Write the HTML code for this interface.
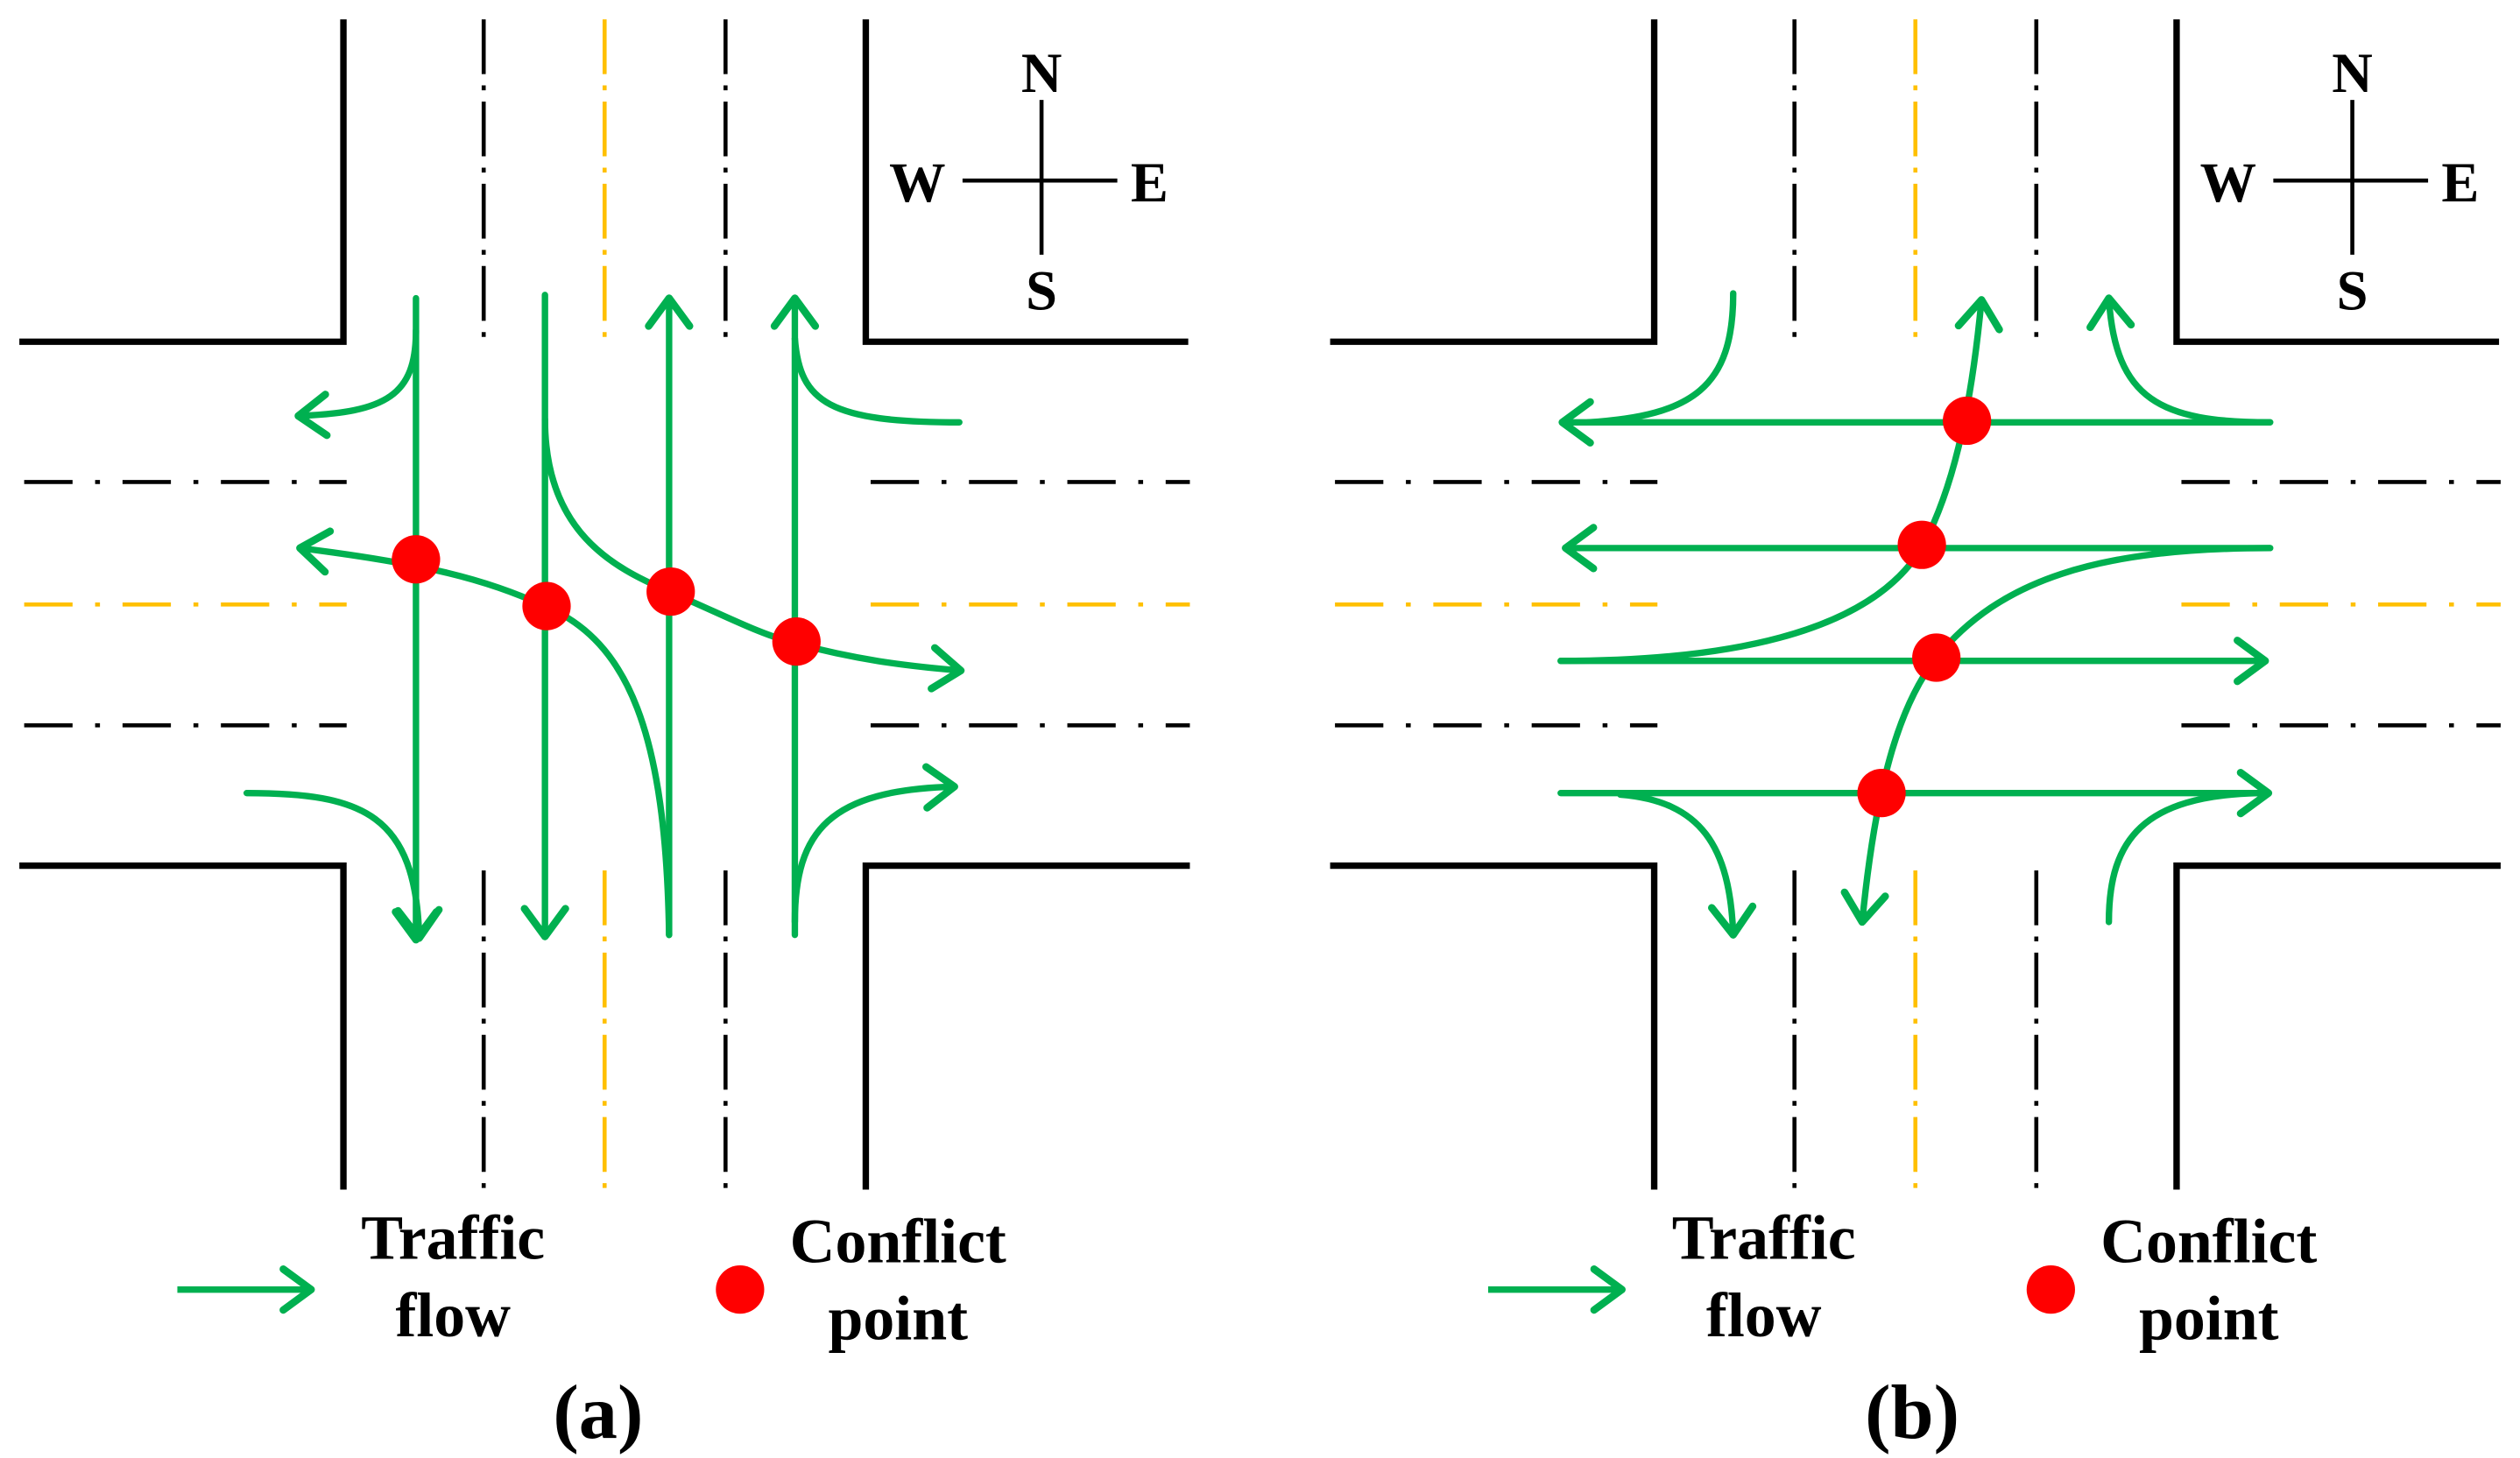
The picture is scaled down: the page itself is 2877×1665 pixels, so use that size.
<!DOCTYPE html>
<html><head><meta charset="utf-8"><style>html,body{margin:0;padding:0;background:#fff}svg{display:block}</style></head>
<body>
<svg width="2877" height="1665" viewBox="0 0 1563 904.5" preserveAspectRatio="none" xmlns="http://www.w3.org/2000/svg">
<defs>
<marker id="ar" markerUnits="userSpaceOnUse" markerWidth="30" markerHeight="30" refX="15" refY="0" viewBox="-2 -13 20 26" orient="auto" overflow="visible">
<path d="M0,-11 L15,0 L0,11" fill="none" stroke="#00b050" stroke-width="4" stroke-linecap="round" stroke-linejoin="round"/>
</marker>
<g id="road">
<path d="M12,212 H213 V12 M537,12 V212 H737 M12,537 H213 V738 M537,738 V537 H738" fill="none" stroke="#000" stroke-width="4"/>
<g fill="none" stroke-width="2.5" stroke-dasharray="34 7 3 7">
<path d="M300,12 V212 M450,12 V212 M300,540 V738 M450,540 V738" stroke="#000"/>
<path d="M375,12 V212 M375,540 V738" stroke="#ffc000"/>
</g>
<g fill="none" stroke-width="2.5" stroke-dasharray="30 14 3 14">
<path d="M15,299 H215 M15,450 H215 M540,299 H738 M540,450 H738" stroke="#000"/>
<path d="M15,375 H215 M540,375 H738" stroke="#ffc000"/>
</g>
<path d="M597,112 H693 M646,62 V158" stroke="#000" stroke-width="2.5"/>
<g font-family="'Liberation Serif',serif" font-weight="bold" font-size="35" text-anchor="middle">
<text x="646" y="57">N</text><text x="569" y="125">W</text><text x="713" y="125">E</text><text x="646" y="192">S</text>
</g>
<path d="M110,800 H193" fill="none" stroke="#00b050" stroke-width="4" marker-end="url(#ar)"/>
<circle cx="459" cy="800" r="15" fill="#f00"/>
<g font-family="'Liberation Serif',serif" font-weight="bold" font-size="39" text-anchor="middle">
<text x="281" y="781">Traffic</text><text x="281" y="829">flow</text>
<text x="557" y="783">Conflict</text><text x="557" y="831">point</text>
</g>
</g>
</defs>

<use href="#road"/>
<use href="#road" transform="translate(813,0)"/>

<g font-family="'Liberation Serif',serif" font-weight="bold" font-size="48" text-anchor="middle">
<text x="371" y="892">(a)</text><text x="1186" y="892">(b)</text>
</g>

<!-- Panel a -->
<g fill="none" stroke="#00b050" stroke-width="4" stroke-linecap="round">
<path d="M258,185 V583" marker-end="url(#ar)"/>
<path d="M258,205 C258,245 240,256 185,258" marker-end="url(#ar)"/>
<path d="M338,183 V581" marker-end="url(#ar)"/>
<path d="M415,580 V185" marker-end="url(#ar)"/>
<path d="M493,580 V185" marker-end="url(#ar)"/>
<path d="M493,210 C496,250 515,262 595,262"/>
<path d="M153,492 C225,492 258,505 260,582" marker-end="url(#ar)"/>
<path d="M493,572 C493,515 515,490 592,488" marker-end="url(#ar)"/>
<path d="M415,580 C413,455 390,398 338,376 C300,359 265,350 186,340" marker-end="url(#ar)"/>
<path d="M338,260 C338,330 380,352 415,367 C450,382 470,393 493,399 C530,409 560,413 596,416" marker-end="url(#ar)"/>
</g>
<g fill="#f00">
<circle cx="258" cy="347" r="15"/><circle cx="339" cy="376" r="15"/><circle cx="416" cy="367" r="15"/><circle cx="494" cy="398" r="15"/>
</g>

<!-- Panel b -->
<g fill="none" stroke="#00b050" stroke-width="4" stroke-linecap="round">
<path d="M1408,262 H969" marker-end="url(#ar)"/>
<path d="M1075,182 C1075,240 1050,258 985,262"/>
<path d="M1408,262 C1340,262 1312,248 1308,185" marker-end="url(#ar)"/>
<path d="M1408,340 H971" marker-end="url(#ar)"/>
<path d="M968,410 H1405" marker-end="url(#ar)"/>
<path d="M968,492 H1407" marker-end="url(#ar)"/>
<path d="M1005,493 C1055,497 1073,525 1075,580" marker-end="url(#ar)"/>
<path d="M1308,572 C1308,520 1330,494 1400,492"/>
<path d="M968,410 C1100,410 1168,382 1193,338 C1210,305 1222,260 1229,186" marker-end="url(#ar)"/>
<path d="M1408,340 C1300,340 1240,360 1201,408 C1180,435 1164,480 1155,572" marker-end="url(#ar)"/>
</g>
<g fill="#f00">
<circle cx="1220" cy="261" r="15"/><circle cx="1192" cy="338" r="15"/><circle cx="1201" cy="408" r="15"/><circle cx="1167" cy="492" r="15"/>
</g>
</svg>
</body></html>
